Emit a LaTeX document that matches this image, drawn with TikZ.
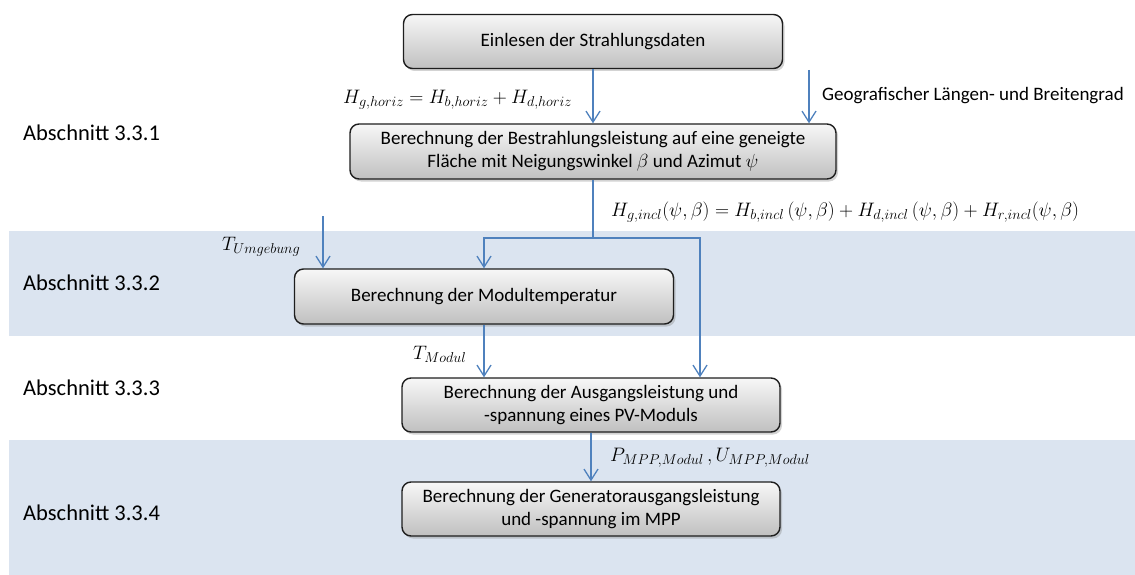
\documentclass[tikz,border=0pt]{standalone}
\usepackage{fix-cm}
\usepackage{fontspec}
\setmainfont{Carlito}
\DeclareMathSizes{19.5}{19.5}{14.3}{10.5}
\DeclareMathSizes{19}{19}{13.5}{10}
\usetikzlibrary{arrows.meta,shadows}
\definecolor{bandblue}{RGB}{219,228,240}
\definecolor{arrowblue}{RGB}{79,129,189}
\definecolor{boxtop}{RGB}{247,247,247}
\definecolor{boxbot}{RGB}{192,192,192}
\definecolor{boxline}{RGB}{30,30,30}
\begin{document}
\begin{tikzpicture}[x=1pt,y=-1pt,
  procbox/.style={draw=boxline, line width=1.4pt, rounded corners=9pt,
    top color=boxtop, bottom color=boxbot,
    drop shadow={shadow xshift=2pt,shadow yshift=-2.5pt,opacity=0.35},
    minimum height=54pt, align=center, inner sep=0pt,
    font=\fontsize{19}{23.5}\selectfont},
  flow/.style={draw=arrowblue, line width=1.3pt, -{Straight Barb[length=11pt,width=14pt]}},
  link/.style={draw=arrowblue, line width=1.3pt},
  seclabel/.style={anchor=west, inner sep=0pt, font=\fontsize{22.5}{27}\selectfont},
  mathlabel/.style={anchor=west, inner sep=0pt, font=\fontsize{19.5}{23}\selectfont},
  txtlabel/.style={anchor=west, inner sep=0pt, font=\fontsize{19}{23.5}\selectfont}]
\useasboundingbox (0,0) rectangle (1135,575);
% bands
\fill[bandblue] (9,231) rectangle (1135,336);
\fill[bandblue] (9,440) rectangle (1135,575);
% section labels
\node[seclabel] (s1) at (23,133) {Abschnitt 3.3.1};
\node[seclabel] (s2) at (23,283) {Abschnitt 3.3.2};
\node[seclabel] (s3) at (23,388) {Abschnitt 3.3.3};
\node[seclabel] (s4) at (23,513) {Abschnitt 3.3.4};
% boxes
\node[procbox, minimum width=379pt] (b1) at (593,41.5) {Einlesen der Strahlungsdaten};
\node[procbox, minimum width=486pt, minimum height=55pt] (b2) at (593,151.5) {Berechnung der Bestrahlungsleistung auf eine geneigte\\ Fläche mit Neigungswinkel $\beta$ und Azimut $\psi$};
\node[procbox, minimum width=379pt, minimum height=55pt] (b3) at (484,296.5) {Berechnung der Modultemperatur};
\node[procbox, minimum width=378pt] (b4) at (591,405) {Berechnung der Ausgangsleistung und\\ -spannung eines PV-Moduls};
\node[procbox, minimum width=378pt] (b5) at (591,509) {Berechnung der Generatorausgangsleistung\\ und -spannung im MPP};
% connectors
\draw[flow] (b1.south) -- (b1.south |- b2.north);
\coordinate (geoS) at (809,70);
\draw[flow] (geoS) -- (geoS |- b2.north);
\coordinate (split) at (593,238);
\draw[link] (b2.south) -- (split);
\draw[flow] (split) -| (b3.north);
\coordinate (b4in) at (700,0);
\draw[flow] (split) -| (b4in |- b4.north);
\coordinate (tuS) at (323,216);
\draw[flow] (tuS) -- (tuS |- b3.north);
\draw[flow] (b3.south) -- (b3.south |- b4.north);
\draw[flow] (b4.south) -- (b4.south |- b5.north);
% labels
\node[mathlabel] (lhor) at (343,100) {$H_{g,horiz} = H_{b,horiz} + H_{d,horiz}$};
\node[txtlabel] (lgeo) at (822,96) {Geografischer Längen- und Breitengrad};
\node[mathlabel] (linc) at (611,212) {$H_{g,incl}(\psi,\beta) = H_{b,incl}\,(\psi,\beta) + H_{d,incl}\,(\psi,\beta) + H_{r,incl}(\psi,\beta)$};
\node[mathlabel] (lumg) at (222,247) {$T_{Umgebung}$};
\node[mathlabel] (lmod) at (413,354) {$T_{Modul}$};
\node[mathlabel] (lmpp) at (610,458) {$P_{MPP,Modul}\,,U_{MPP,Modul}$};
\end{tikzpicture}
\end{document}
